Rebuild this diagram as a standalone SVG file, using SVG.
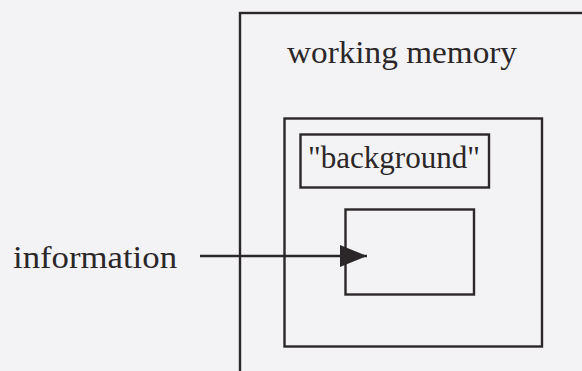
<svg xmlns="http://www.w3.org/2000/svg" width="582" height="371" viewBox="0 0 582 371">
  <style>
    .box { fill: none; stroke: #2b2729; stroke-width: 2.4; }
    .lbl { font-family: "Liberation Serif", "Times New Roman", serif; font-size: 32px; fill: #2b2729; }
    .wire { stroke: #2b2729; stroke-width: 2.4; fill: none; }
  </style>
  <defs>
    <marker id="head" markerUnits="userSpaceOnUse" markerWidth="30" markerHeight="24" refX="28" refY="11" orient="auto">
      <path d="M1,0 L28,11 L1,22 Z" fill="#2b2729"/>
    </marker>
  </defs>
  <rect width="582" height="371" fill="#f3f3f5"/>

  <g id="working-memory">
    <rect class="box" x="240" y="13" width="360" height="380"/>
    <text class="lbl" x="287" y="63" textLength="230" lengthAdjust="spacingAndGlyphs">working memory</text>
  </g>

  <g id="focus">
    <rect class="box" x="284.5" y="118.5" width="257.5" height="228"/>
  </g>

  <g id="background">
    <rect class="box" x="300.5" y="134.5" width="188.5" height="53"/>
    <text class="lbl" x="308" y="168" textLength="172" lengthAdjust="spacingAndGlyphs">"background"</text>
  </g>

  <g id="target">
    <rect class="box" x="345.5" y="209.5" width="128.5" height="85"/>
  </g>

  <g id="information">
    <text class="lbl" x="13" y="268" textLength="164" lengthAdjust="spacingAndGlyphs">information</text>
  </g>

  <g id="connectors">
    <line class="wire" x1="200" y1="256" x2="367" y2="256" marker-end="url(#head)"/>
  </g>
</svg>
